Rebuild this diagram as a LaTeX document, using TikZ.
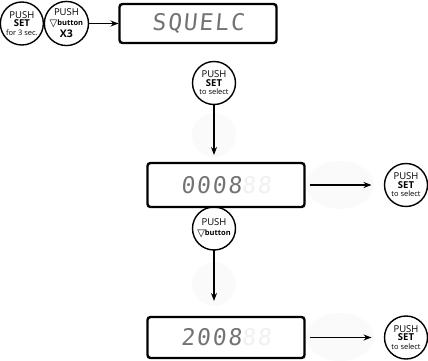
\documentclass[tikz,border=0pt]{standalone}
\usepackage{fontspec}
\setmainfont{Open Sans}
\newfontfamily\lcdfont{DejaVu Sans Mono}[FakeSlant=0.1, LetterSpace=8]
\newfontfamily\symfont{DejaVu Sans}
\usetikzlibrary{positioning,arrows.meta}

\newcommand{\downbtn}{{\symfont\fontsize{10}{10}\selectfont ▽}\raisebox{1.5pt}{\fontsize{7.5}{7.5}\selectfont\bfseries button}}
\newcommand{\lcdtext}[2]{{\lcdfont\fontsize{23}{23}\selectfont\color{black!55}#1\color{black!6}#2}}

\begin{document}
\begin{tikzpicture}
[
x=1pt, y=1pt,
pushnode/.style={circle, draw, line width=1.4pt, minimum size=43pt, inner sep=0pt, outer sep=0, align=center, font=\fontsize{9.5}{10}\selectfont},
lcdnode/.style={rectangle, draw, line width=2.4pt, rounded corners=3pt, minimum width=157pt, outer sep=0},
flow/.style={line width=1.5pt, -{Stealth[length=8pt, width=6pt]}},
ghost/.style={fill=black!2},
node distance=4pt
]
\useasboundingbox (0,0) rectangle (428,-361);
% faint marks behind the arrows
\fill[ghost] (214,-135) circle (22);
\fill[ghost] (214,-284) circle (22);
\fill[ghost] (340,-185) ellipse (34 and 24);
\fill[ghost] (340,-337) ellipse (34 and 24);

\node[lcdnode, minimum height=44pt] (code1) at (226,-185) {\lcdtext{0008}{88}};
\node[pushnode] (pushdown) [below=0pt of code1, xshift=-12pt] {PUSH\\[1pt]\downbtn};
\node[lcdnode, minimum height=41pt] (code2) [below=67pt of pushdown, xshift=12pt] {\lcdtext{2008}{88}};
\node[pushnode] (select1)  [right=80pt of code1] {PUSH\\[-1.5pt]\textbf{SET}\\[-1.5pt]{\fontsize{7.5}{8}\selectfont to select}};
\node[pushnode] (select2)  [right=80pt of code2] {PUSH\\[-1.5pt]\textbf{SET}\\[-1.5pt]{\fontsize{7.5}{8}\selectfont to select}};
\node[pushnode] (pushsel)  [above=58.5pt of code1, xshift=-12pt] {PUSH\\[-1.5pt]\textbf{SET}\\[-1.5pt]{\fontsize{7.5}{8}\selectfont to select}};
\node[lcdnode, minimum height=39pt] (squelc) [above=18.5pt of pushsel, xshift=-16pt] {\lcdtext{SQUELC}{}};
\node[pushnode] (pushx3)   [left=31pt of squelc] {PUSH\\[1pt]\downbtn\\[1pt]{\fontsize{10.5}{10.5}\selectfont\bfseries X3}};
\node[pushnode] (pushset)  [left=1pt of pushx3]  {PUSH\\[-1.5pt]\textbf{SET}\\[-1.5pt]{\fontsize{7.5}{8}\selectfont for 3 sec.}};

\draw[flow, shorten >=1pt]                 (pushx3)         to (squelc);
\draw[flow, shorten >=8pt]                 (pushsel.south)  to (pushsel.south |- code1.north);
\draw[flow, shorten >=16pt]                (pushdown.south) to (pushdown.south |- code2.north);
\draw[flow, shorten <=5pt, shorten >=13pt] (code1)          to (select1);
\draw[flow, shorten <=5pt, shorten >=13pt] (code2)          to (select2);
\end{tikzpicture}
\end{document}
